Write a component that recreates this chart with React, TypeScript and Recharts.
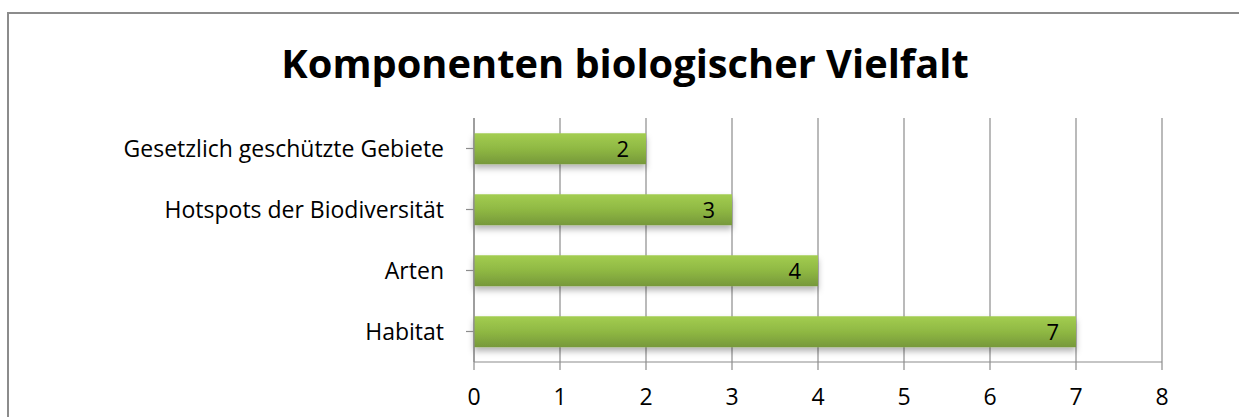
import React from "react";
import { BarChart, Bar, XAxis, YAxis, CartesianGrid, LabelList } from "recharts";

const categories = ["Gesetzlich geschützte Gebiete", "Hotspots der Biodiversität", "Arten", "Habitat"];
const values = [2, 3, 4, 7];
const xTicks = [0, 1, 2, 3, 4, 5, 6, 7, 8];
const title = "Komponenten biologischer Vielfalt";

const data = categories.map((c, i) => ({ name: c, value: values[i] }));

const FONT = "'Open Sans', Lato, sans-serif";

const BarShape = (props: any) => {
  const { x, y, width, height } = props;
  if (!width || width <= 0) return null;
  return (
    <rect x={x} y={y} width={width} height={height} fill="url(#barGrad)" filter="url(#barShadow)" />
  );
};

export default function App() {
  return (
    <div style={{ position: "absolute", left: 0, top: 0, width: 1239, height: 417, overflow: "hidden", background: "#fff" }}>
      <svg width="0" height="0" style={{ position: "absolute" }}>
        <defs>
          <linearGradient id="barGrad" x1="0" y1="0" x2="0" y2="1">
            <stop offset="0%" stopColor="#a3cd51" />
            <stop offset="50%" stopColor="#8fb843" />
            <stop offset="100%" stopColor="#76983a" />
          </linearGradient>
          <filter id="barShadow" x="-5%" y="-20%" width="110%" height="160%">
            <feDropShadow dx="0" dy="4" stdDeviation="3" floodColor="#000" floodOpacity="0.3" />
          </filter>
        </defs>
      </svg>
      <div
        style={{
          position: "absolute",
          left: 7,
          top: 12,
          width: 1400,
          height: 600,
          border: "2px solid #8c8c8c",
          boxSizing: "border-box",
        }}
      />
      <svg width={1239} height={417} style={{ position: "absolute", left: 0, top: 0 }}>
        <text
          x={625}
          y={78}
          textAnchor="middle"
          style={{ fontFamily: FONT, fontWeight: 700, fontSize: 39.8, fill: "#000" }}
        >
          {title}
        </text>
      </svg>
      <div style={{ position: "absolute", left: 0, top: 0 }}>
        <BarChart
          width={1239}
          height={417}
          data={data}
          layout="vertical"
          margin={{ top: 118, right: 77, bottom: 15, left: 0 }}
          barCategoryGap="25%"
        >
          <CartesianGrid horizontal={false} vertical={true} stroke="#8c8c8c" strokeWidth={1.2} />
          <XAxis
            type="number"
            domain={[0, 8]}
            ticks={xTicks}
            interval={0}
            height={40}
            tickSize={8}
            tickMargin={19}
            axisLine={{ stroke: "#8c8c8c", strokeWidth: 1.2 }}
            tickLine={{ stroke: "#8c8c8c", strokeWidth: 1.2 }}
            tick={{ fill: "#000", fontSize: 23, fontFamily: FONT }}
          />
          <YAxis
            type="category"
            dataKey="name"
            width={474}
            tickSize={8}
            tickMargin={22}
            axisLine={{ stroke: "#8c8c8c", strokeWidth: 1.2 }}
            tickLine={{ stroke: "#8c8c8c", strokeWidth: 1.2 }}
            tick={{ fill: "#000", fontSize: 23, fontFamily: FONT }}
          />
          <Bar dataKey="value" isAnimationActive={false} shape={BarShape}>
            <LabelList
              dataKey="value"
              position="insideRight"
              offset={17}
              style={{ fill: "#000", fontSize: 22, fontFamily: FONT }}
            />
          </Bar>
        </BarChart>
      </div>
    </div>
  );
}
